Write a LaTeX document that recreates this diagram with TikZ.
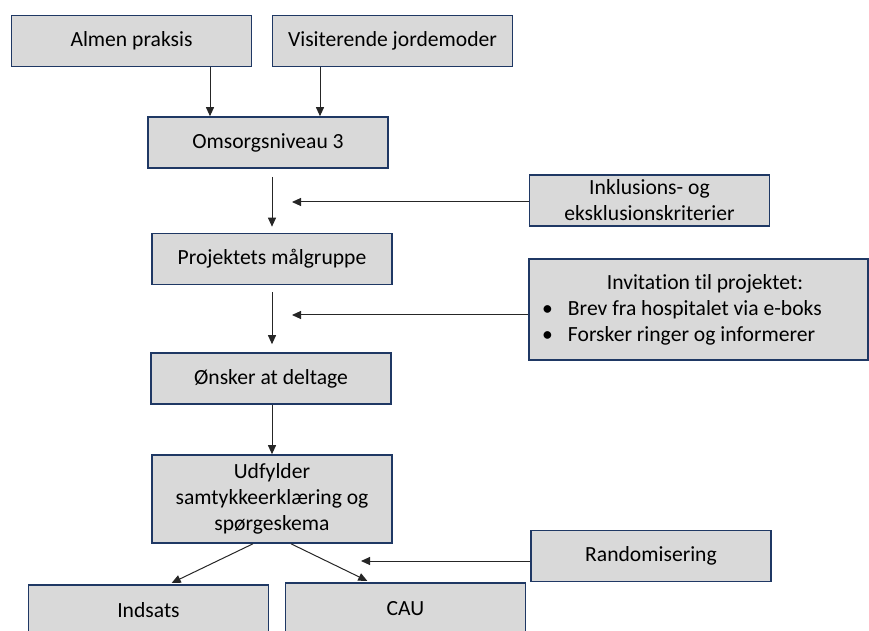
\documentclass[tikz,border=0pt]{standalone}
\usepackage{fontspec}
\setmainfont{Carlito}[Ligatures=NoCommon]
\usetikzlibrary{arrows.meta, calc, positioning}
\definecolor{boxfill}{HTML}{D9D9D9}
\definecolor{boxline}{HTML}{1F3864}
\definecolor{ink}{HTML}{262626}
\tikzset{stagebox/.style={draw=boxline, fill=boxfill, line width=0.8pt, minimum width=120pt, minimum height=25.5pt, inner sep=0pt, align=center, font=\fontsize{10.8}{13}\selectfont},
  arr/.style={draw=ink, line width=0.5pt, -{Triangle[width=4pt,length=4.5pt]}}}

\begin{document}
\begin{tikzpicture}[x=0.5pt, y=-0.5pt]
  \useasboundingbox (0,0) rectangle (869,631);
  \foreach \n/\x/\y/\t in {almen/131.5/41/Almen praksis, visit/392.5/41/Visiterende jordemoder,
     omsorg/268/142.5/Omsorgsniveau 3, maal/272/259/Projektets målgruppe, oensk/271/378.5/Ønsker at deltage,
     rand/651/556/Randomisering, inds/148.5/610.5/Indsats, cau/405.5/608.5/CAU}
     \node[stagebox] (\n) at (\x,\y) {\t};
  \node[stagebox] (inkl) at (649.5,200.5) {Inklusions- og\\eksklusionskriterier};
  \node[stagebox, minimum height=44pt] (udf) at (272,499) {Udfylder\\samtykkeerklæring og\\spørgeskema};
  \node[stagebox, minimum width=169.5pt, minimum height=50.5pt, text width=156.5pt, inner xsep=6.5pt, align=flush left] (invit) at (698.5,309.5)
     {\makebox[\hsize]{\hspace{6.5pt}Invitation til projektet:}\\
      \makebox[13pt][l]{\textbullet}Brev fra hospitalet via e-boks\\
      \makebox[13pt][l]{\textbullet}Forsker ringer og informerer};
  \coordinate (t1) at (292,202);\coordinate (t2) at (292,315);\coordinate (t3) at (361,561);
  % main flow
  \draw[arr] (almen.south -| 210,0) -- (omsorg.north -| 210,0);
  \draw[arr] (visit.south -| 320,0) -- (omsorg.north -| 320,0);
  \draw[arr, shorten <=4pt, shorten >=3pt] (omsorg.south -| maal.north) -- (maal.north);
  \draw[arr, shorten <=3.5pt, shorten >=4pt] (maal.south) -- (maal.south |- oensk.north);
  \draw[arr] (oensk.south -| udf.north) -- (udf.north);
  \draw[arr, shorten >=1.5pt] (udf.south -| 253,0) -- (inds.north -| 169,0);
  \draw[arr, shorten >=1.5pt] (udf.south -| 291,0) -- (cau.north -| 370,0);
  % side inputs
  \draw[arr] (inkl.west |- t1) -- (t1);
  \draw[arr] (invit.west |- t2) -- (t2);
  \draw[arr] (rand.west |- t3) -- (t3);
\end{tikzpicture}
\end{document}
